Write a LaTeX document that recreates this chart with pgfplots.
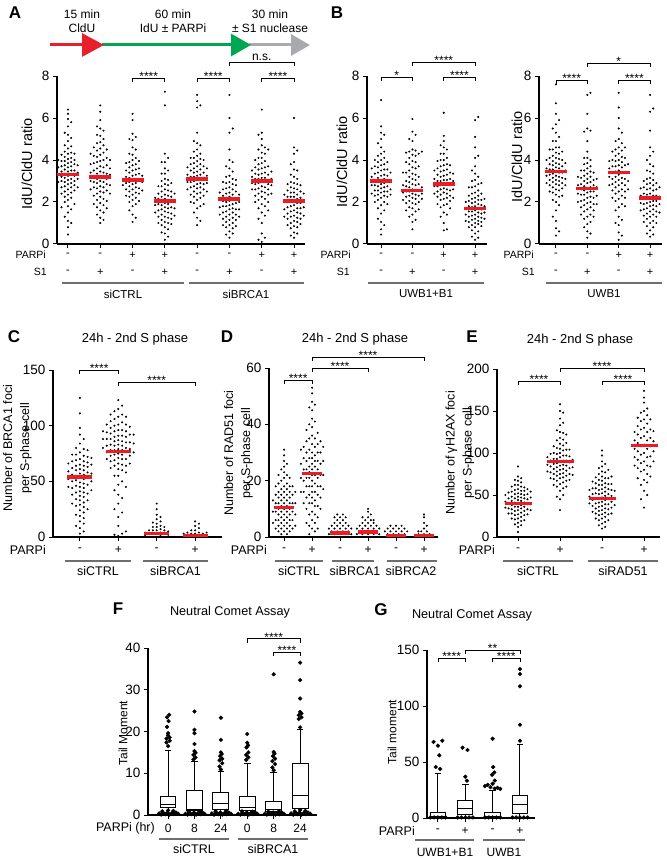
\documentclass[border=0pt]{standalone}
\usepackage{fontspec}
\setmainfont{Liberation Sans}
\usepackage{pgfplots}
\pgfplotsset{compat=1.18}
\usepgfplotslibrary{statistics}
\usetikzlibrary{arrows.meta,calc}
\definecolor{medred}{RGB}{237,28,36}
\definecolor{arrred}{RGB}{232,32,44}
\definecolor{arrgreen}{RGB}{0,166,81}
\definecolor{arrgray}{RGB}{168,170,173}
\definecolor{ln}{RGB}{110,110,110}
\newcommand\fs[1]{\fontsize{#1}{#1}\selectfont}
\def\stp{0.1}
\newcommand\C[2]{\addplot[only marks,mark=*,mark size=0.8pt,black] table[header=false,row sep=\\,x expr=#1,y index=0]{#2\\};}
\newcommand\G[8]{\C{#1-3*\stp}{#2}\C{#1-2*\stp}{#3}\C{#1-\stp}{#4}\C{#1}{#5}\C{#1+\stp}{#6}\C{#1+2*\stp}{#7}\C{#1+3*\stp}{#8}}
\newcommand\Gx[3]{\C{#1-4*\stp}{#2}\C{#1+4*\stp}{#3}}
\newcommand\br[4]{\draw[line width=0.8pt] ([yshift=-4pt]axis cs:#1,#3) -- (axis cs:#1,#3) -- (axis cs:#2,#3) -- ([yshift=-4pt]axis cs:#2,#3);
  \node[font=\fs{12}, anchor=base, inner sep=0pt, yshift=-2.5pt] at ($(axis cs:#1,#3)!0.5!(axis cs:#2,#3)$) {#4};}
\newcommand\brns[3]{\draw[line width=0.8pt] ([yshift=-4pt]axis cs:#1,#3) -- (axis cs:#1,#3) -- (axis cs:#2,#3) -- ([yshift=-4pt]axis cs:#2,#3);
  \node[font=\fs{12}, anchor=south, inner sep=1pt] at ($(axis cs:#1,#3)!0.5!(axis cs:#2,#3)$) {n.s.};}
\pgfplotsset{panel/.style={scale only axis, anchor=south west, axis x line*=bottom, axis y line*=left, clip=false,
  tick align=outside, major tick length=4pt, every tick/.style={line width=1pt,black},
  axis line style={line width=1.1pt,black}, xticklabels={}, ymin=0, boxplot/draw direction=y,
  /pgf/number format/assume math mode=true, yticklabel style={font=\fs{13.5}}},
  med/.style={only marks, mark=-, mark size=#1, medred, mark options={line width=3.5pt}},
  od/.style={only marks, mark=*, mark size=1.9pt, black},
  bx/.style={black, line width=1pt, solid, boxplot prepared={draw direction=y,#1}}}
\begin{document}
\begin{tikzpicture}
\path[use as bounding box] (0,0) rectangle (666pt,-858pt);
% ---------------- A ----------------
\def\stp{0.1}
\begin{axis}[panel, at={(57pt,-244pt)}, width=248pt, height=168pt, xmin=0.66, xmax=8.34, ymax=8, xtick={1,...,8}, ytick={0,2,4,6,8}]
\G{1}{2.95\\3.3\\3.65\\4.0}{1.75\\2.4\\2.7\\3.0\\3.2\\3.45\\3.7\\3.95\\4.25}{1.3\\2.0\\2.25\\2.5\\2.75\\2.95\\3.15\\3.35\\3.55\\3.75\\3.95\\4.15\\4.4\\4.7\\5.3}{0.45\\0.8\\1.1\\1.5\\1.8\\2.1\\2.35\\2.6\\2.85\\3.05\\3.25\\3.45\\3.65\\3.85\\4.05\\4.3\\4.55\\4.9\\5.2\\5.6\\5.95\\6.2\\6.4}{1.0\\1.65\\2.2\\2.45\\2.7\\2.9\\3.1\\3.3\\3.5\\3.7\\3.9\\4.1\\4.35\\4.65\\5.05\\5.8}{1.9\\2.55\\2.8\\3.0\\3.25\\3.5\\3.8\\4.0\\4.3}{2.7\\3.1\\3.4\\3.75}
\G{2}{2.6\\3.0\\3.4\\3.8\\4.3}{1.9\\2.3\\2.7\\2.95\\3.2\\3.5\\3.85\\4.2\\4.6}{1.4\\1.75\\2.1\\2.4\\2.65\\2.9\\3.1\\3.35\\3.6\\3.9\\4.15\\4.45\\4.8\\5.2\\5.6}{1.0\\1.25\\1.6\\1.95\\2.25\\2.5\\2.75\\3.0\\3.2\\3.45\\3.7\\3.95\\4.25\\4.55\\4.85\\5.15\\5.5\\5.9\\6.3\\6.6}{1.15\\1.5\\1.85\\2.15\\2.45\\2.7\\2.95\\3.15\\3.4\\3.65\\4.0\\4.35\\4.7\\5.0\\5.4}{1.7\\2.05\\2.55\\2.85\\3.1\\3.35\\3.75\\4.1\\4.5}{2.4\\2.8\\3.3\\3.6\\4.0}
\G{3}{2.8\\3.1}{2.3\\2.6\\2.9\\3.2\\3.5\\3.85}{1.6\\2.0\\2.25\\2.5\\2.75\\2.95\\3.15\\3.4\\3.65\\3.9\\4.3\\5.0}{1.05\\1.4\\1.8\\2.1\\2.35\\2.6\\2.85\\3.05\\3.25\\3.5\\3.75\\4.0\\4.25\\4.6\\4.95\\5.25\\5.9\\6.2}{1.25\\1.9\\2.2\\2.45\\2.7\\2.9\\3.1\\3.3\\3.55\\3.8\\4.1\\4.5\\5.1}{2.05\\2.4\\2.65\\3.0\\3.35\\3.6\\3.95}{2.55\\2.95\\3.25}
\G{4}{1.5\\1.85\\2.2}{1.0\\1.3\\1.6\\1.9\\2.15\\2.4\\2.75}{0.55\\0.9\\1.15\\1.4\\1.65\\1.85\\2.05\\2.25\\2.5\\2.75\\3.0\\3.35\\3.9}{0.2\\0.5\\0.8\\1.05\\1.3\\1.55\\1.75\\1.95\\2.15\\2.35\\2.6\\2.85\\3.1\\3.35\\3.6\\3.9\\4.3\\6.6\\7.25}{0.35\\0.7\\1.0\\1.25\\1.5\\1.7\\1.9\\2.1\\2.3\\2.55\\2.8\\3.05\\3.5\\4.1}{0.95\\1.2\\1.45\\1.75\\2.0\\2.25\\2.5\\2.9}{1.35\\1.7\\2.05\\2.4}
\G{5}{2.6\\2.95\\3.3\\3.65}{2.0\\2.35\\2.7\\2.95\\3.2\\3.5\\3.8\\4.1}{1.5\\1.95\\2.25\\2.5\\2.75\\3.0\\3.2\\3.4\\3.6\\3.85\\4.1\\4.4\\4.9}{0.9\\1.25\\1.7\\2.1\\2.4\\2.65\\2.85\\3.05\\3.25\\3.45\\3.7\\3.95\\4.2\\4.5\\4.8\\5.3\\6.5\\6.8\\7.1}{1.1\\1.8\\2.2\\2.45\\2.7\\2.9\\3.1\\3.3\\3.55\\3.8\\4.05\\4.3\\4.7\\6.6}{1.9\\2.3\\2.6\\2.85\\3.15\\3.4\\3.7\\4.0}{2.5\\2.9\\3.25\\3.6}
\G{6}{1.4\\1.75\\2.1\\2.45}{0.9\\1.2\\1.5\\1.8\\2.05\\2.3\\2.6\\2.95}{0.45\\0.8\\1.05\\1.3\\1.55\\1.8\\2.0\\2.2\\2.4\\2.65\\2.9\\3.2\\3.7}{0.3\\0.6\\0.9\\1.15\\1.4\\1.65\\1.85\\2.05\\2.25\\2.45\\2.7\\2.95\\3.25\\3.6\\4.0\\4.5\\5.3\\6.0\\7.1}{0.5\\0.75\\1.0\\1.25\\1.5\\1.7\\1.9\\2.1\\2.35\\2.6\\2.85\\3.1\\3.45\\3.9\\5.5}{0.85\\1.15\\1.4\\1.65\\1.95\\2.2\\2.5\\2.8\\3.05}{1.3\\1.65\\2.0\\2.35}
\G{7}{2.6\\2.9\\3.2\\3.5}{2.0\\2.3\\2.6\\2.85\\3.1\\3.35\\3.65\\4.0}{0.2\\1.2\\1.7\\2.1\\2.4\\2.65\\2.9\\3.1\\3.3\\3.55\\3.8\\4.1\\4.5\\5.2}{0.1\\0.5\\1.0\\1.5\\1.9\\2.25\\2.5\\2.75\\2.95\\3.15\\3.35\\3.6\\3.85\\4.1\\4.35\\4.7\\5.0\\5.3\\6.4}{0.3\\1.35\\1.8\\2.15\\2.45\\2.7\\2.95\\3.15\\3.4\\3.65\\3.95\\4.3\\4.6}{1.6\\2.0\\2.35\\2.6\\2.85\\3.05\\3.3\\3.7\\4.5}{2.4\\2.8\\3.1\\3.45}
\G{8}{1.3\\1.65\\2.0\\2.35}{0.9\\1.2\\1.45\\1.75\\2.0\\2.25\\2.55\\2.85}{0.4\\0.75\\1.0\\1.3\\1.55\\1.8\\2.05\\2.25\\2.45\\2.7\\2.95\\3.3\\3.8}{0.3\\0.55\\0.85\\1.1\\1.35\\1.6\\1.85\\2.05\\2.25\\2.45\\2.65\\2.9\\3.2\\3.55\\3.9\\4.3\\4.6\\6.0}{0.5\\0.8\\1.05\\1.25\\1.5\\1.7\\1.95\\2.15\\2.35\\2.6\\2.85\\3.1\\3.5\\4.45}{0.95\\1.2\\1.45\\1.7\\1.95\\2.2\\2.5\\2.8}{1.35\\1.75\\2.1\\2.4}
\addplot[med=11pt] coordinates {(1,3.3)(2,3.2)(3,3.05)(4,2.05)(5,3.1)(6,2.15)(7,3.0)(8,2.05)};
\br{3}{4}{7.9}{****}
\br{5}{6}{7.9}{****}
\br{7}{8}{7.9}{****}
\brns{6}{8}{8.67}
\end{axis}
% ---------------- B left ----------------
\begin{axis}[panel, at={(367pt,-244pt)}, width=120pt, height=168pt, xmin=0.55, xmax=4.38, ymax=8, xtick={1,...,4}, ytick={0,2,4,6,8}]
\G{1}{2.4\\2.8\\3.2\\3.6}{2.0\\2.3\\2.55\\2.8\\3.05\\3.35\\3.7\\4.0}{1.2\\1.7\\2.1\\2.35\\2.55\\2.75\\2.95\\3.15\\3.4\\3.65\\3.9\\4.2\\4.8}{0.45\\0.7\\1.05\\1.45\\1.85\\2.2\\2.45\\2.65\\2.85\\3.05\\3.25\\3.5\\3.75\\4.0\\4.3\\4.6\\5.0\\5.3\\5.6\\6.85}{0.9\\1.6\\2.0\\2.3\\2.5\\2.7\\2.9\\3.1\\3.3\\3.55\\3.8\\4.1\\4.4\\5.2}{1.9\\2.25\\2.5\\2.75\\3.0\\3.25\\3.55\\3.9}{2.35\\2.6\\2.95\\3.4}
\G{2}{2.1\\2.45\\2.8\\3.4}{1.6\\1.95\\2.25\\2.5\\2.75\\3.0\\3.4\\3.9\\4.35}{1.3\\1.75\\2.05\\2.3\\2.5\\2.7\\2.95\\3.2\\3.5\\3.8\\4.1\\4.4\\5.0}{0.7\\1.05\\1.4\\1.7\\1.95\\2.2\\2.4\\2.6\\2.85\\3.1\\3.35\\3.65\\3.95\\4.25\\4.5\\4.9\\5.35\\5.95}{1.15\\1.55\\1.9\\2.15\\2.35\\2.55\\2.8\\3.05\\3.3\\3.6\\3.9\\4.2\\4.45\\5.2}{1.65\\2.0\\2.3\\2.55\\2.85\\3.2\\3.7\\4.3}{2.15\\2.4\\2.7\\4.4}
\G{3}{2.4\\2.75\\3.1\\3.5}{1.9\\2.25\\2.5\\2.75\\3.0\\3.3\\3.6\\3.95}{1.3\\1.75\\2.1\\2.35\\2.6\\2.8\\3.0\\3.2\\3.45\\3.7\\4.0\\4.3\\4.7}{0.65\\1.0\\1.5\\1.85\\2.15\\2.45\\2.65\\2.85\\3.05\\3.25\\3.5\\3.75\\4.0\\4.3\\4.6\\4.9\\5.15\\6.25}{0.7\\1.4\\1.9\\2.2\\2.4\\2.6\\2.85\\3.05\\3.3\\3.55\\3.8\\4.1\\4.5}{1.7\\2.05\\2.3\\2.55\\2.8\\3.1\\3.4\\3.75}{2.2\\2.6\\3.0\\3.35}
\G{4}{1.1\\1.4\\1.7\\2.0}{0.8\\1.05\\1.3\\1.55\\1.8\\2.05\\2.3\\2.7}{0.35\\0.65\\0.9\\1.15\\1.35\\1.55\\1.75\\1.95\\2.15\\2.4\\2.7\\3.0\\3.5}{0.2\\0.5\\0.8\\1.0\\1.2\\1.4\\1.6\\1.8\\2.0\\2.2\\2.45\\2.75\\3.05\\3.35\\3.7\\4.1\\4.6\\5.1\\5.9}{0.3\\0.6\\0.95\\1.1\\1.3\\1.5\\1.7\\1.9\\2.1\\2.3\\2.55\\2.85\\3.2\\4.2\\6.05}{0.85\\1.05\\1.25\\1.45\\1.65\\1.85\\2.1\\2.4\\2.9}{1.2\\1.5\\1.8\\2.15}
\addplot[med=11pt] coordinates {(1,3.0)(2,2.55)(3,2.85)(4,1.7)};
\br{1}{2}{7.95}{*}
\br{3}{4}{7.95}{****}
\br{2}{4}{8.67}{****}
\end{axis}
% ---------------- B right ----------------
\begin{axis}[panel, at={(539pt,-244pt)}, width=123pt, height=168pt, xmin=0.46, xmax=4.38, ymax=8, xtick={1,...,4}, ytick={0,2,4,6,8}]
\G{1}{2.9\\3.25\\3.6\\4.0}{2.5\\2.8\\3.05\\3.3\\3.55\\3.8\\4.1\\4.5}{1.3\\2.1\\2.45\\2.7\\2.95\\3.15\\3.35\\3.55\\3.75\\3.95\\4.2\\4.5\\4.9\\5.5}{0.4\\0.75\\1.1\\1.6\\2.0\\2.35\\2.6\\2.85\\3.05\\3.25\\3.45\\3.65\\3.85\\4.1\\4.35\\4.6\\4.9\\5.3\\5.7\\6.2\\6.7\\7.6}{0.6\\1.85\\2.25\\2.55\\2.8\\3.0\\3.2\\3.4\\3.6\\3.8\\4.05\\4.3\\4.6\\5.1\\5.9}{2.3\\2.65\\2.9\\3.15\\3.4\\3.7\\4.0\\4.4}{2.8\\3.1\\3.5\\3.85}
\G{2}{2.0\\2.4\\2.8\\3.2}{1.4\\1.75\\2.05\\2.35\\2.6\\2.85\\3.15\\3.5}{0.8\\1.2\\1.55\\1.85\\2.1\\2.35\\2.55\\2.75\\3.0\\3.25\\3.5\\3.8\\4.1\\5.35}{0.3\\0.6\\0.95\\1.3\\1.65\\1.95\\2.2\\2.45\\2.65\\2.9\\3.1\\3.35\\3.6\\3.85\\4.1\\4.4\\4.9\\5.5\\6.2\\7.1}{0.5\\1.05\\1.4\\1.75\\2.0\\2.25\\2.5\\2.7\\2.95\\3.2\\3.45\\3.7\\4.0\\5.4\\7.2}{1.3\\1.6\\1.9\\2.2\\2.5\\2.8\\3.05\\3.4}{1.9\\2.3\\2.7\\3.1}
\G{3}{2.8\\3.2\\3.6\\3.95}{2.2\\2.55\\2.85\\3.1\\3.4\\3.7\\4.0\\4.4}{1.0\\1.6\\2.05\\2.4\\2.7\\2.95\\3.2\\3.45\\3.7\\3.95\\4.2\\4.5\\4.9}{0.2\\0.55\\0.9\\1.3\\1.75\\2.15\\2.5\\2.8\\3.05\\3.3\\3.5\\3.75\\4.0\\4.3\\4.6\\5.0\\5.5\\6.0\\6.5\\7.2}{0.4\\1.15\\1.9\\2.3\\2.6\\2.9\\3.15\\3.4\\3.65\\3.9\\4.15\\4.45\\4.8\\5.3}{1.8\\2.2\\2.5\\2.8\\3.1\\3.4\\3.75\\4.1\\4.6}{2.6\\3.0\\3.4\\3.8}
\G{4}{1.6\\1.95\\2.3\\2.65}{1.05\\1.35\\1.65\\1.9\\2.15\\2.4\\2.7\\3.0}{0.5\\0.85\\1.2\\1.45\\1.7\\1.95\\2.15\\2.35\\2.6\\2.85\\3.1\\3.5\\4.0}{0.35\\0.65\\1.0\\1.3\\1.55\\1.8\\2.0\\2.2\\2.4\\2.65\\2.9\\3.15\\3.45\\3.8\\4.2\\4.6\\5.4\\6.3\\7.1}{0.45\\0.8\\1.1\\1.4\\1.65\\1.85\\2.05\\2.3\\2.55\\2.8\\3.05\\3.35\\3.7\\4.4\\6.45}{1.0\\1.3\\1.55\\1.8\\2.05\\2.3\\2.6\\2.9}{1.5\\1.9\\2.25\\2.7}
\addplot[med=11pt] coordinates {(1,3.45)(2,2.65)(3,3.4)(4,2.2)};
\br{1}{2}{7.8}{****}
\br{3}{4}{7.8}{****}
\br{2}{4}{8.6}{*}
\end{axis}
% ---------------- C ----------------
\def\stp{0.1}
\begin{axis}[panel, at={(53pt,-537pt)}, width=169pt, height=167pt, xmin=0.3, xmax=4.7, ymax=150, xtick={1,...,4}, ytick={0,50,100,150}]
\G{1}{45\\52\\59\\66}{30\\38\\44\\50\\56\\62\\68\\74}{10\\20\\28\\34\\40\\46\\51\\55\\60\\64\\69\\74\\80}{3\\8\\14\\19\\24\\29\\33\\37\\41\\45\\49\\53\\57\\61\\65\\70\\76\\84\\92\\98\\111\\125}{5\\12\\17\\22\\27\\31\\36\\40\\44\\48\\52\\56\\60\\64\\68\\73\\79\\88}{25\\33\\39\\47\\54\\58\\63\\67\\72\\78}{42\\50\\57\\65\\71}
\G{2}{70\\76\\82\\88\\94\\101}{62\\68\\73\\78\\83\\88\\93\\98\\104\\110}{2\\25\\42\\55\\64\\69\\74\\78\\82\\86\\90\\95\\100\\106\\113}{1\\10\\18\\30\\38\\47\\55\\61\\66\\71\\75\\79\\83\\87\\91\\96\\101\\108\\115\\123}{3\\22\\35\\50\\60\\65\\70\\74\\78\\82\\86\\91\\96\\103\\110\\118}{5\\45\\58\\64\\70\\76\\80\\85\\90\\95\\101\\108}{66\\73\\79\\85\\92\\99}
\Gx{2}{80\\88\\95}{76\\84\\92}
\G{3}{1\\4}{0\\3\\6}{0\\3\\6\\9\\13}{0\\3\\6\\9\\12\\16\\20\\25\\30}{1\\4\\7\\10\\14\\18}{0\\3\\6\\9}{2\\5}
\G{4}{0\\3}{1\\4}{0\\3\\6}{0\\3\\6\\10\\14}{1\\4\\8\\12}{0\\3}{1\\4}
\addplot[med=12.5pt] coordinates {(1,54)(2,77)(3,3)(4,1.5)};
\br{1}{2}{150}{****}
\br{2}{4}{139}{****}
\end{axis}
% ---------------- D ----------------
\def\stp{0.1}
\begin{axis}[panel, at={(269pt,-537pt)}, width=169pt, height=169pt, xmin=0.46, xmax=6.5, ymax=60, xtick={1,...,6}, ytick={0,20,40,60}]
\G{1}{3\\6\\9\\12\\15\\18}{2\\4\\6\\8\\10\\12\\14\\16\\19\\22}{1\\3\\5\\7\\9\\11\\13\\15\\17\\20\\24}{0\\2\\4\\6\\8\\10\\12\\14\\16\\18\\21\\23\\25\\27\\29\\31}{1\\3\\5\\7\\9\\11\\13\\15\\17\\19\\22\\26}{2\\4\\6\\8\\10\\12\\14\\16\\18\\21}{3\\6\\9\\12\\15\\18}
\Gx{1}{5\\9\\13}{4\\8\\12\\16}
\G{2}{12\\16\\20\\24\\28\\32}{5\\10\\14\\18\\21\\24\\27\\30\\34\\38}{1\\4\\8\\12\\15\\18\\21\\23\\25\\28\\31\\35\\40\\46}{0\\3\\6\\9\\12\\14\\16\\18\\20\\22\\24\\26\\28\\30\\33\\36\\39\\42\\45\\48\\51\\53}{2\\5\\8\\11\\13\\16\\19\\22\\25\\27\\29\\32\\35\\41\\47}{3\\7\\11\\15\\18\\21\\24\\27\\30\\33\\37}{10\\14\\18\\22\\26\\30\\34}
\Gx{2}{16\\21\\26\\31}{17\\22\\27\\32}
\G{3}{0\\2\\4}{1\\3\\5\\7}{0\\2\\4\\6\\8}{1\\3\\5\\7}{0\\2\\4\\6\\8}{1\\3\\5\\7}{0\\2\\4}
\Gx{3}{1\\3}{1\\3}
\G{4}{0\\2\\4}{1\\3\\5\\7}{0\\2\\4\\6}{1\\3\\5\\7\\9\\10}{0\\2\\4\\6\\8}{1\\3\\5\\6}{0\\2\\4}
\Gx{4}{1\\3}{1\\3}
\G{5}{1\\3}{0\\2\\4}{1\\3}{0\\2\\4}{1\\3}{0\\2\\4}{1\\3}
\Gx{5}{0\\2}{0\\2}
\G{6}{0}{1\\2}{0\\2}{1\\3\\5\\7\\8}{0\\2\\4}{1}{0}
\addplot[med=10pt] coordinates {(1,10.5)(2,22.5)(3,1.5)(4,1.8)(5,0.5)(6,0.5)};
\br{1}{2}{55.7}{****}
\br{2}{4}{60}{****}
\br{2}{6}{63.9}{****}
\end{axis}
% ---------------- E ----------------
\def\stp{0.075}
\begin{axis}[panel, at={(497pt,-537pt)}, width=163pt, height=168pt, xmin=0.5, xmax=4.38, ymax=200, xtick={1,...,4}, ytick={0,50,100,150,200}]
\G{1}{28\\34\\40\\46\\53}{22\\28\\33\\38\\43\\48\\54\\60}{15\\21\\26\\31\\36\\41\\46\\51\\56\\62\\68}{0\\6\\12\\17\\22\\27\\32\\36\\40\\44\\48\\52\\57\\62\\67\\72\\84}{14\\19\\24\\29\\34\\38\\43\\47\\51\\55\\60\\65\\70}{20\\26\\31\\36\\41\\46\\50\\55\\59}{27\\33\\39\\45\\51\\57}
\Gx{1}{35\\42\\50}{32\\39\\47\\54}
\G{2}{70\\77\\84\\91\\99}{62\\69\\75\\81\\87\\93\\100\\108}{48\\60\\67\\73\\78\\83\\88\\93\\99\\106\\115\\127}{32\\45\\55\\63\\70\\75\\80\\85\\90\\95\\100\\105\\111\\118\\125\\133\\141\\150\\158}{50\\58\\65\\71\\76\\81\\86\\91\\97\\103\\109\\116\\124\\136\\148}{60\\67\\73\\79\\85\\91\\97\\104\\112\\122}{68\\75\\82\\89\\96\\104}
\Gx{2}{78\\86\\95}{74\\83\\92}
\G{3}{30\\37\\44\\51\\58\\66}{22\\28\\34\\40\\46\\52\\58\\64\\71}{14\\20\\26\\31\\36\\41\\46\\51\\56\\62\\68\\75\\82}{10\\16\\22\\27\\32\\37\\42\\47\\52\\57\\62\\67\\72\\78\\84\\90\\97\\103}{12\\18\\24\\29\\34\\39\\44\\49\\54\\59\\64\\70\\77\\87}{20\\27\\33\\39\\45\\51\\57\\63\\70\\80}{28\\35\\42\\49\\56\\63\\72}
\Gx{3}{40\\48\\56}{38\\46\\55}
\G{4}{85\\95\\105\\115\\125}{70\\82\\92\\102\\112\\122\\132\\142}{45\\62\\78\\88\\98\\108\\118\\128\\138\\148}{35\\55\\68\\80\\90\\100\\110\\120\\130\\140\\150\\160\\166\\174}{50\\65\\75\\85\\95\\105\\115\\125\\135\\145\\153}{72\\84\\96\\108\\118\\128\\140}{90\\102\\114\\126}
\addplot[med=13.5pt] coordinates {(1,40)(2,90)(3,46)(4,109)};
\br{1}{2}{185.7}{****}
\br{3}{4}{185.7}{****}
\br{2}{4}{201}{****}
\end{axis}
% ---------------- F ----------------
\begin{axis}[panel, at={(148pt,-815pt)}, width=169pt, height=167pt, xmin=0.24, xmax=6.64, ymax=40, xtick={1,...,6}, ytick={0,10,20,30,40}]
\addplot[bx={draw position=1, lower whisker=0.1, lower quartile=1.8, median=2.4, upper quartile=4.5, upper whisker=15.4, box extend=0.6, whisker extend=0.25}] coordinates {};
\addplot[bx={draw position=2, lower whisker=0.1, lower quartile=1.0, median=1.25, upper quartile=5.9, upper whisker=12.8, box extend=0.6, whisker extend=0.25}] coordinates {};
\addplot[bx={draw position=3, lower whisker=0.1, lower quartile=1.4, median=2.8, upper quartile=5.4, upper whisker=10.4, box extend=0.6, whisker extend=0.25}] coordinates {};
\addplot[bx={draw position=4, lower whisker=0.1, lower quartile=1.2, median=1.7, upper quartile=4.5, upper whisker=12.4, box extend=0.6, whisker extend=0.25}] coordinates {};
\addplot[bx={draw position=5, lower whisker=0.1, lower quartile=0.8, median=1.3, upper quartile=3.3, upper whisker=10.2, box extend=0.6, whisker extend=0.25}] coordinates {};
\addplot[bx={draw position=6, lower whisker=0.1, lower quartile=1.6, median=4.7, upper quartile=12.3, upper whisker=20.5, box extend=0.6, whisker extend=0.25}] coordinates {};
\addplot[od] coordinates {(1,16.5)(0.94,17.4)(1.06,17.8)(0.94,18.3)(1.06,18.6)(1,19.1)(1,19.6)(0.96,21.1)(1.02,22.5)(0.96,23.4)(1.04,24.0)
 (0.66,0.4)(0.74,0.1)(0.82,0.5)(0.9,0.2)(0.98,0.6)(1.06,0.1)(1.14,0.5)(1.22,0.2)(1.3,0.6)(1.38,0.3)(0.78,0.9)(1.2,1.0)(1,1.1)};
\addplot[od] coordinates {(1.96,13.3)(2.04,13.8)(1.96,14.4)(2.04,14.9)(2,15.3)(2,17.0)(2,19.6)(2,20.4)(2,24.8)
 (1.66,0.3)(1.74,0.1)(1.82,0.5)(1.9,0.2)(1.98,0.6)(2.06,0.1)(2.14,0.5)(2.22,0.2)(2.3,0.6)(2.38,0.3)(1.78,0.8)(2.2,0.9)};
\addplot[od] coordinates {(3,10.9)(2.95,11.6)(3.05,12.4)(2.95,13.1)(3.05,13.5)(2.97,14.1)(3.03,14.6)(3,15.0)(3,18.0)(3,23.3)
 (2.66,0.4)(2.74,0.1)(2.82,0.5)(2.9,0.2)(2.98,0.6)(3.06,0.1)(3.14,0.5)(3.22,0.2)(3.3,0.6)(3.38,0.3)(2.8,0.9)(3.2,1.0)};
\addplot[od] coordinates {(3.96,13.2)(4.04,13.8)(3.96,14.4)(4.04,15.0)(3.97,16.2)(4.03,16.7)(4,17.3)(4,19.4)
 (3.66,0.3)(3.74,0.1)(3.82,0.5)(3.9,0.2)(3.98,0.6)(4.06,0.1)(4.14,0.5)(4.22,0.2)(4.3,0.6)(4.38,0.3)(3.8,0.9)(4.2,0.8)};
\addplot[od] coordinates {(5,10.7)(4.95,11.4)(5.05,12.2)(4.95,12.9)(5.05,13.5)(4.97,14.1)(5.03,14.7)(5,15.1)(5,33.7)
 (4.66,0.3)(4.74,0.1)(4.82,0.5)(4.9,0.2)(4.98,0.6)(5.06,0.1)(5.14,0.5)(5.22,0.2)(5.3,0.6)(5.38,0.3)(4.8,0.8)(5.2,0.9)};
\addplot[od] coordinates {(6,21.0)(5.95,23.0)(6.05,23.4)(5.95,23.9)(6.05,24.3)(6,24.7)(6,27.9)(6,32.3)(6,36.5)
 (5.66,0.4)(5.74,0.1)(5.82,0.5)(5.9,0.2)(5.98,0.6)(6.06,0.1)(6.14,0.5)(6.22,0.2)(6.3,0.6)(6.38,0.3)(5.8,0.9)(6.2,1.0)(6,1.2)};
\br{4}{6}{42.2}{****}
\br{5}{6}{39}{****}
\end{axis}
% ---------------- G ----------------
\begin{axis}[panel, at={(427pt,-818pt)}, width=108pt, height=168pt, xmin=0.6, xmax=4.55, ymax=150, xtick={1,...,4}, ytick={0,50,100,150}]
\addplot[bx={draw position=1, lower whisker=0, lower quartile=0.3, median=1.0, upper quartile=5, upper whisker=40, box extend=0.56, whisker extend=0.25}] coordinates {};
\addplot[bx={draw position=2, lower whisker=0, lower quartile=3, median=8.5, upper quartile=15.6, upper whisker=29.5, box extend=0.56, whisker extend=0.25}] coordinates {};
\addplot[bx={draw position=3, lower whisker=0, lower quartile=0.3, median=1.5, upper quartile=5, upper whisker=24.5, box extend=0.56, whisker extend=0.25}] coordinates {};
\addplot[bx={draw position=4, lower whisker=0, lower quartile=4.4, median=12, upper quartile=19.7, upper whisker=66, box extend=0.56, whisker extend=0.25}] coordinates {};
\addplot[od] coordinates {(0.84,67.9)(1,64.6)(1.16,69)(1.05,56)(0.92,45.5)(1.08,43.8)(0.72,0.5)(0.86,0.5)(1,0.5)(1.14,0.5)(1.28,0.5)};
\addplot[od] coordinates {(1.9,62.8)(2.08,60.7)(2,36.9)(2.06,33.3)(1.72,0.5)(1.86,0.5)(2,0.5)(2.14,0.5)(2.28,0.5)};
\addplot[od] coordinates {(2.72,28.5)(2.82,29.6)(2.92,27.5)(3,30.6)(3.08,26.3)(3.18,27)(3.28,26)(3.08,33.4)(2.98,38.6)(3.06,40.7)(3.02,45.5)(3,70.8)(2.72,0.5)(2.86,0.5)(3,0.5)(3.14,0.5)(3.28,0.5)};
\addplot[od] coordinates {(4,69)(4,83.3)(4,117.6)(4,128.6)(4,133)(3.72,0.5)(3.86,0.5)(4,0.5)(4.14,0.5)(4.28,0.5)};
\br{1}{2}{142.5}{****}
\br{3}{4}{142.5}{****}
\br{2}{4}{150}{**}
\end{axis}
% ---------------- annotations ----------------
\begin{scope}[x=1pt,y=-1pt]
\node[font=\fs{17}\bfseries] at (15,13) {A};
\node[font=\fs{17}\bfseries] at (337,13) {B};
\node[font=\fs{17}\bfseries] at (14,337) {C};
\node[font=\fs{17}\bfseries] at (227,337) {D};
\node[font=\fs{17}\bfseries] at (472,337) {E};
\node[font=\fs{17}\bfseries] at (118,609) {F};
\node[font=\fs{17}\bfseries] at (381,610) {G};
\node[font=\fs{12}] at (82,14) {15 min};
\node[font=\fs{12}] at (82,28) {CldU};
\node[font=\fs{12}] at (173,14) {60 min};
\node[font=\fs{12}] at (173,28) {IdU ± PARPi};
\node[font=\fs{12}] at (270,14) {30 min};
\node[font=\fs{12}] at (270,28) {± S1 nuclease};
\draw[arrgray, line width=3pt, -{Triangle[length=19pt,width=21pt]}] (249,45) -- (310,45);
\draw[arrgreen, line width=3pt, -{Triangle[length=20pt,width=22pt]}] (102,45) -- (251,45);
\draw[arrred, line width=3pt, -{Triangle[length=22pt,width=23pt]}] (50,45) -- (104,45);
\node[font=\fs{14.5}, rotate=90] at (27,164) {IdU/CldU ratio};
\node[font=\fs{14.5}, rotate=90] at (342,162) {IdU/CldU ratio};
\node[font=\fs{14.5}, rotate=90] at (517,157) {IdU/CldU ratio};
\node[font=\fontsize{12.5}{17}\selectfont, rotate=90, align=center] at (17.5,448) {Number of BRCA1 foci\\per S-phase cell};
\node[font=\fontsize{12.5}{17}\selectfont, rotate=90, align=center] at (238.5,453) {Number of RAD51 foci\\per S-phase cell};
\node[font=\fontsize{12.5}{17}\selectfont, rotate=90, align=center] at (460,453) {Number of γH2AX foci\\per S-phase cell};
\node[font=\fs{12}, rotate=90] at (123,733) {Tail Moment};
\node[font=\fs{12}, rotate=90] at (392,732) {Tail moment};
\node[font=\fs{13}] at (135,339) {24h - 2nd S phase};
\node[font=\fs{13}] at (355,339) {24h - 2nd S phase};
\node[font=\fs{13}] at (580,340) {24h - 2nd S phase};
\node[font=\fs{12.7}] at (230,612) {Neutral Comet Assay};
\node[font=\fs{12.7}] at (472,615) {Neutral Comet Assay};
\node[font=\fs{10.5}, anchor=east, inner sep=0pt] at (46,255) {PARPi};
\node[font=\fs{10.5}, anchor=east, inner sep=0pt] at (47,272) {S1};
\foreach \x/\s in {68/-,100.3/-,132.6/+,164.9/+,197.2/-,229.5/-,261.8/+,294.1/+} {\node[font=\fs{11}] at (\x,255) {\s};}
\foreach \x/\s in {68/-,100.3/+,132.6/-,164.9/+,197.2/-,229.5/+,261.8/-,294.1/+} {\node[font=\fs{11}] at (\x,272) {\s};}
\draw[ln, line width=1.2pt] (62,283) -- (184,283);
\draw[ln, line width=1.2pt] (189,283) -- (304,283);
\node[font=\fs{11.5}] at (123,294) {siCTRL};
\node[font=\fs{11.5}] at (246,294) {siBRCA1};
\node[font=\fs{10.5}, anchor=east, inner sep=0pt] at (351,255) {PARPi};
\node[font=\fs{10.5}, anchor=east, inner sep=0pt] at (350,272) {S1};
\node[font=\fs{10.5}, anchor=east, inner sep=0pt] at (534,255) {PARPi};
\node[font=\fs{10.5}, anchor=east, inner sep=0pt] at (535,272) {S1};
\foreach \x/\s in {381.1/-,412.4/-,443.7/+,475/+,556/-,587.4/-,618.8/+,650.2/+} {\node[font=\fs{11}] at (\x,255) {\s};}
\foreach \x/\s in {381.1/-,412.4/+,443.7/-,475/+,556/-,587.4/+,618.8/-,650.2/+} {\node[font=\fs{11}] at (\x,272) {\s};}
\draw[ln, line width=1.2pt] (368,283) -- (484,283);
\draw[ln, line width=1.2pt] (546,283) -- (662,283);
\node[font=\fs{11.5}] at (426,294) {UWB1+B1};
\node[font=\fs{11.5}] at (604,294) {UWB1};
\node[font=\fs{12.5}, anchor=east, inner sep=0pt] at (46,550) {PARPi};
\node[font=\fs{12.5}, anchor=east, inner sep=0pt] at (267,550) {PARPi};
\node[font=\fs{12.5}, anchor=east, inner sep=0pt] at (495,550) {PARPi};
\foreach \x/\s in {79.9/-,118.3/+,156.7/-,195.1/+,284.1/-,312.1/+,340.1/-,368.1/+,396.1/-,424.1/+,518/-,560/+,602/-,644/+} {\node[font=\fs{12}] at (\x,550) {\s};}
\draw[ln, line width=1.2pt] (65,561) -- (131,561);
\draw[ln, line width=1.2pt] (143,561) -- (208,561);
\draw[ln, line width=1.2pt] (275,561) -- (323,561);
\draw[ln, line width=1.2pt] (332,561) -- (374,561);
\draw[ln, line width=1.2pt] (387,561) -- (437,561);
\draw[ln, line width=1.2pt] (503,561) -- (573,561);
\draw[ln, line width=1.2pt] (588,561) -- (658,561);
\node[font=\fs{12.5}] at (98,571) {siCTRL};
\node[font=\fs{12.5}] at (175.5,571) {siBRCA1};
\node[font=\fs{12.5}] at (299,571) {siCTRL};
\node[font=\fs{12.5}] at (355,571) {siBRCA1};
\node[font=\fs{12.5}] at (411,571) {siBRCA2};
\node[font=\fs{12.5}] at (538,571) {siCTRL};
\node[font=\fs{12.5}] at (623,571) {siRAD51};
\node[font=\fs{12.5}, anchor=east, inner sep=0pt] at (155,828) {PARPi (hr)};
\foreach \x/\s in {168.1/0,194.5/8,220.9/24,247.3/0,273.7/8,300.1/24} {\node[font=\fs{12}] at (\x,828) {\s};}
\draw[ln, line width=1.2pt] (159,839) -- (229,839);
\draw[ln, line width=1.2pt] (238,839) -- (308,839);
\node[font=\fs{12.5}] at (194,849) {siCTRL};
\node[font=\fs{12.5}] at (273,849) {siBRCA1};
\node[font=\fs{12.5}, anchor=east, inner sep=0pt] at (415,831) {PARPi};
\foreach \x/\s in {437.9/-,465.2/+,492.5/-,519.8/+} {\node[font=\fs{12}] at (\x,831) {\s};}
\draw[ln, line width=1.2pt] (415,840) -- (474,840);
\draw[ln, line width=1.2pt] (483,840) -- (525,840);
\node[font=\fs{12}, anchor=base, inner sep=0pt] at (445,856) {UWB1+B1};
\node[font=\fs{12}, anchor=base, inner sep=0pt] at (504,856) {UWB1};
\end{scope}
\end{tikzpicture}
\end{document}
